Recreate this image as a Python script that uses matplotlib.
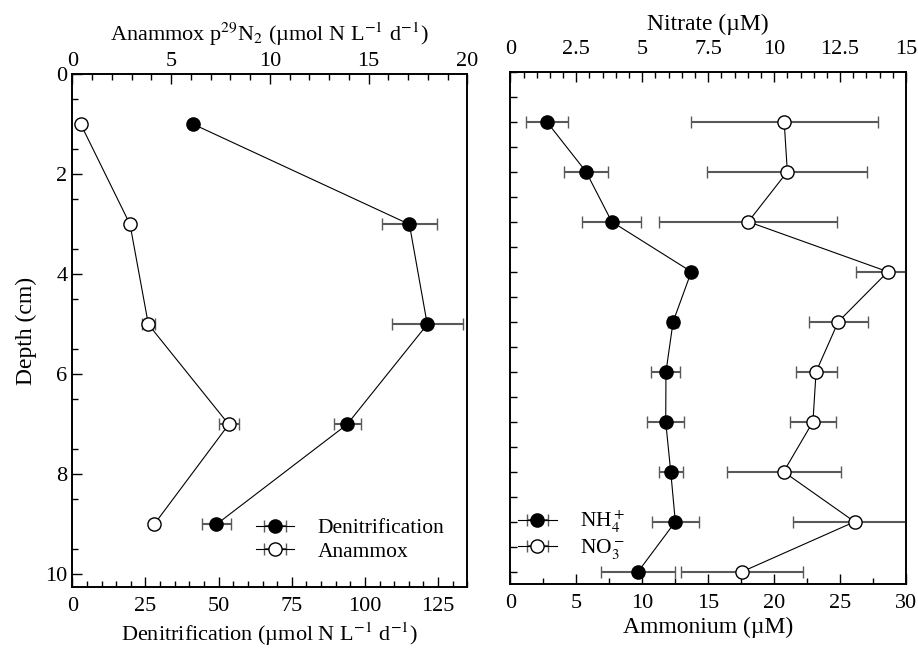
import numpy as np
import matplotlib
matplotlib.use('Agg')
import matplotlib.pyplot as plt
from matplotlib.ticker import MultipleLocator, FixedLocator, FuncFormatter

plt.rcParams['font.family'] = 'Liberation Serif'
plt.rcParams['mathtext.fontset'] = 'stix'

# left panel: rates
depth_rate = [1, 3, 5, 7, 9]
denit = [41.4, 115.2, 121.3, 93.9, 49.2]
denit_err = [0, 9.3, 12.2, 4.6, 5.0]
anammox = [0.43, 2.92, 3.85, 7.92, 4.14]
anammox_err = [0, 0, 0.32, 0.51, 0]

# right panel: porewater
depth_pw = [1, 2, 3, 4, 5, 6, 7, 8, 9, 10]
nh4 = [2.76, 5.74, 7.69, 13.72, 12.34, 11.8, 11.78, 12.16, 12.51, 9.68]
nh4_err = [1.6, 1.65, 2.25, 0, 0.4, 1.1, 1.39, 0.92, 1.8, 2.8]
no3 = [10.38, 10.5, 9.02, 14.31, 12.43, 11.59, 11.47, 10.36, 13.05, 8.78]
no3_err = [3.55, 3.03, 3.37, 1.2, 1.12, 0.78, 0.88, 2.16, 2.33, 2.31]

fs_tick = 16
fs_lab = 17
fs_leg = 15.5
ecol = '0.35'
ms = 9.5
fmt_g = FuncFormatter(lambda v, p: f'{v:g}')

fig = plt.figure(figsize=(9.18, 6.5), dpi=100)
ax1 = fig.add_axes([0.0788, 0.0962, 0.4303, 0.7895])
ax1t = ax1.twiny()
ax2 = fig.add_axes([0.5559, 0.1011, 0.4311, 0.7886])
ax2t = ax2.twiny()

def style(a):
    a.tick_params(which='major', direction='in', length=7, width=1, labelsize=fs_tick)
    a.tick_params(which='minor', direction='in', length=4, width=1)
    for s in a.spines.values():
        s.set_linewidth(1.2)

kw = dict(color='k', lw=0.8, ms=ms, ecolor=ecol, elinewidth=1.5,
          capsize=4.5, capthick=1.5, mec='k', mew=1)

h1 = ax1.errorbar(denit, depth_rate, xerr=denit_err, fmt='-o', mfc='k',
                  label='Denitrification', **kw)
h2 = ax1t.errorbar(anammox, depth_rate, xerr=anammox_err, fmt='-o', mfc='white',
                   label='Anammox', **kw)
ax1.set_xlim(0, 135)
ax1t.set_xlim(0, 20)
ax1.set_ylim(10.26, 0)
ax1.xaxis.set_major_locator(MultipleLocator(25))
ax1.xaxis.set_minor_locator(MultipleLocator(5))
ax1t.xaxis.set_major_locator(MultipleLocator(5))
ax1t.xaxis.set_minor_locator(MultipleLocator(1))
ax1.yaxis.set_major_locator(MultipleLocator(2))
ax1.yaxis.set_minor_locator(FixedLocator(np.arange(0.5, 10, 1)))
style(ax1)
style(ax1t)
ax1.tick_params(axis='y', right=False, which='both')
ax1.tick_params(axis='x', pad=7)
ax1t.tick_params(axis='x', pad=2.5)
ax1.set_xlabel('Denitrification (µmol N L$^{-1}$ d$^{-1}$)', fontsize=16, labelpad=3)
ax1t.set_xlabel('Anammox p$^{29}$N$_2$ (µmol N L$^{-1}$ d$^{-1}$)', fontsize=16, labelpad=8)
ax1.set_ylabel('Depth (cm)', fontsize=fs_lab, labelpad=6)
ax1.legend(handles=[h1, h2], loc='center left', frameon=False, fontsize=fs_leg,
           bbox_to_anchor=(0.465, 0.0926), borderaxespad=0, borderpad=0,
           handlelength=1.75, labelspacing=0.15, handletextpad=1.1)

h3 = ax2.errorbar(nh4, depth_pw, xerr=nh4_err, fmt='-o', mfc='k',
                  label='NH$_4^+$', **kw)
h4 = ax2t.errorbar(no3, depth_pw, xerr=no3_err, fmt='-o', mfc='white',
                   label='NO$_3^-$', **kw)
ax2.set_xlim(0, 30)
ax2t.set_xlim(0, 15)
ax2.set_ylim(10.25, 0)
ax2.xaxis.set_major_locator(MultipleLocator(5))
ax2.xaxis.set_minor_locator(MultipleLocator(2.5))
ax2t.xaxis.set_major_locator(MultipleLocator(2.5))
ax2t.xaxis.set_minor_locator(MultipleLocator(0.5))
ax2.yaxis.set_major_locator(MultipleLocator(1))
ax2.yaxis.set_minor_locator(MultipleLocator(0.5))
for a in (ax1, ax1t, ax2, ax2t):
    a.xaxis.set_major_formatter(fmt_g)
style(ax2)
style(ax2t)
ax2.tick_params(axis='y', labelleft=False, right=False, which='both', length=5)
ax2.tick_params(axis='x', pad=7)
ax2t.tick_params(axis='x', pad=9)
ax2.set_xlabel('Ammonium (µM)', fontsize=fs_lab, labelpad=3)
ax2t.set_xlabel('Nitrate (µM)', fontsize=fs_lab, labelpad=7)
ax2.legend(handles=[h3, h4], loc='center left', frameon=False, fontsize=fs_leg,
           bbox_to_anchor=(0.0195, 0.0958), borderaxespad=0, borderpad=0,
           handlelength=1.8, labelspacing=0.1, handletextpad=1.1)

fig.savefig('out.png', dpi=100)
